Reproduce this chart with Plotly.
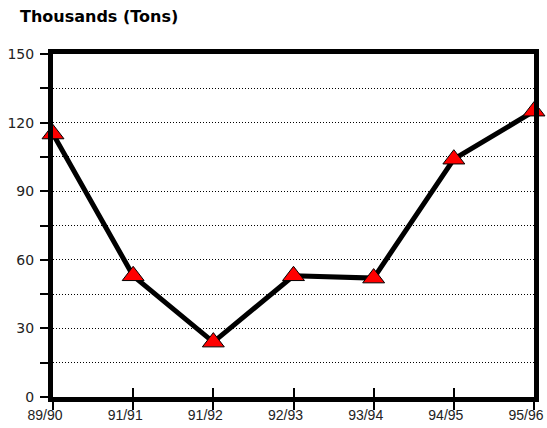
import plotly.graph_objects as go

categories = ["89/90", "91/91", "91/92", "92/93", "93/94", "94/95", "95/96"]
values = [115, 53, 24, 53, 52, 104, 125]
y_ticks = [0, 15, 30, 45, 60, 75, 90, 105, 120, 135, 150]
y_ticktext = ["0", "", "30", "", "60", "", "90", "", "120", "", "150"]

xpos = list(range(len(categories)))

W, H = 547, 428
L, R, T, B = 53, 13, 54, 31
pw, ph = W - L - R, H - T - B

fig = go.Figure()
fig.add_trace(go.Scatter(
    x=xpos, y=values, mode="lines+markers",
    line=dict(color="black", width=5),
    marker=dict(symbol="triangle-up", size=19, color="#ff0000",
                line=dict(color="black", width=1)),
    cliponaxis=False, showlegend=False,
))
# invisible trace to activate inside-tick overlay axis
fig.add_trace(go.Scatter(x=[xpos[0]], y=[values[0]], xaxis="x2", mode="markers",
                         marker=dict(opacity=0), showlegend=False, hoverinfo="skip"))

fig.update_layout(
    width=W, height=H,
    margin=dict(l=L, r=R, t=T, b=B),
    paper_bgcolor="white", plot_bgcolor="white",
    font=dict(family="Liberation Sans, Arial, sans-serif", size=14, color="#222222"),
    annotations=[dict(text="<b>Thousands (Tons)</b>",
                      x=(18 - L) / pw, y=(H - B - 17) / ph,
                      xref="paper", yref="paper",
                      showarrow=False, xanchor="left", yanchor="middle",
                      font=dict(family="DejaVu Sans", size=16, color="black"))],
    xaxis2=dict(overlaying="x", anchor="y", side="bottom", range=[0, 6],
                tickvals=xpos, ticktext=[""] * len(xpos), ticks="inside",
                ticklen=9, tickwidth=2, tickcolor="black", showgrid=False,
                showline=False, zeroline=False, automargin=False),
)

fig.layout.xaxis.update(
    range=[0, 6], tickvals=xpos, ticktext=categories,
    showline=True, linewidth=5, linecolor="black", mirror=True,
    ticks="outside", ticklen=8, tickwidth=2, tickcolor="black",
    showgrid=False, zeroline=False, automargin=False,
    ticklabelshift=-8, ticklabelstandoff=-7,
    tickfont=dict(family="Liberation Sans, Arial, sans-serif", size=14, color="#222222"),
)
fig.layout.yaxis.update(
    range=[0, 150], tickvals=y_ticks, ticktext=y_ticktext,
    showline=True, linewidth=5, linecolor="black", mirror=True,
    ticks="outside", ticklen=8, tickwidth=2, tickcolor="black",
    showgrid=True, gridcolor="black", gridwidth=1, griddash="1px,2px",
    zeroline=False, automargin=False, ticklabelstandoff=3,
    tickfont=dict(family="DejaVu Sans", size=14, color="#222222"),
)

fig.write_html("out.html")
